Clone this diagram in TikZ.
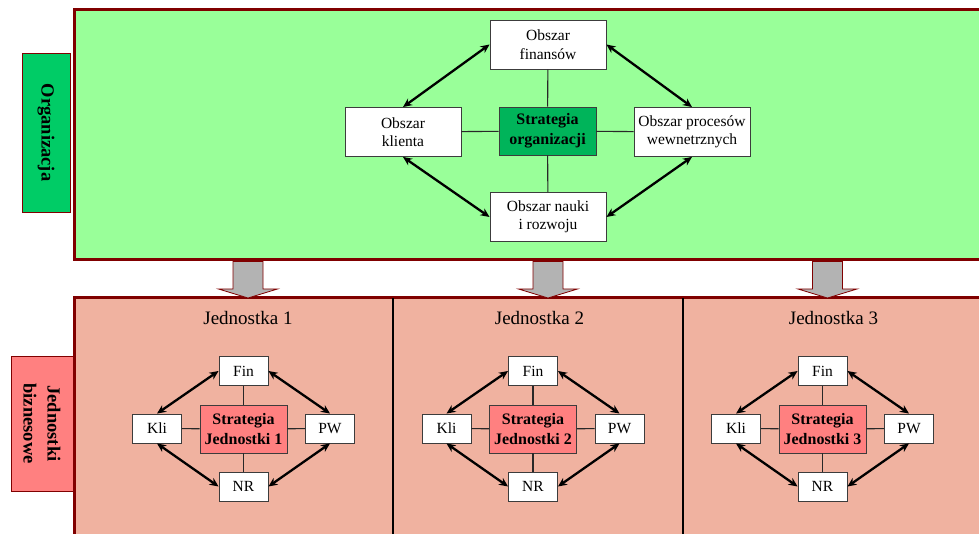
\documentclass[tikz,border=0pt]{standalone}
\usepackage{fontspec}
\setmainfont{Liberation Serif}
\usetikzlibrary{arrows.meta}
\definecolor{frame}{RGB}{128,0,0}
\definecolor{orgfill}{RGB}{153,255,153}
\definecolor{orglabel}{RGB}{0,204,102}
\definecolor{orgstrat}{RGB}{0,180,90}
\definecolor{unitfill}{RGB}{240,178,160}
\definecolor{unitlabel}{RGB}{255,128,128}
\definecolor{boxline}{RGB}{60,60,60}
\definecolor{linkline}{RGB}{40,40,40}
\definecolor{blockgray}{RGB}{179,179,179}
\begin{document}
\begin{tikzpicture}[x=1pt,y=-1pt,
  box/.style={draw=boxline, fill=white, line width=0.9pt, align=center, inner sep=0pt,
    font=\fontsize{15.5}{18.5}\selectfont},
  obox/.style={box, minimum width=116pt, minimum height=49pt},
  sbox/.style={box, minimum width=49pt, minimum height=29pt, font=\fontsize{15.5}{18}\selectfont},
  ostrat/.style={box, fill=orgstrat, minimum width=97pt, minimum height=48pt,
    font=\fontsize{16}{20}\selectfont\bfseries},
  ustrat/.style={box, fill=unitlabel, minimum width=87pt, minimum height=48pt,
    font=\fontsize{16}{20}\selectfont\bfseries},
  link/.style={draw=linkline, line width=1.1pt},
  dbl/.style={{Stealth[length=9pt,width=8pt]}-{Stealth[length=9pt,width=8pt]}, line width=2.3pt},
  sidelabel/.style={draw=frame, line width=0.8pt, rotate=-90, align=center, inner sep=0pt,
    font=\fontsize{18.5}{24}\selectfont\bfseries},
  heading/.style={font=\fontsize{19}{22}\selectfont},
  block/.style={fill=blockgray, draw=frame, line width=0.8pt}
]
\useasboundingbox (0,0) rectangle (979,534);
\clip (0,0) rectangle (979,534);

% organisation level
\draw[frame, line width=3pt, fill=orgfill] (74,10) rectangle (995,260);
\node[sidelabel, fill=orglabel, minimum width=159pt, minimum height=48pt] (orglab) at (46,132.5) {Organizacja};

\node[obox] (fin) at (548,44.5) {Obszar\\finansów};
\node[obox] (kli) at (403,132) {Obszar\\klienta};
\node[obox] (pw) at (692,132) {Obszar procesów\\wewnetrznych};
\node[obox] (nr) at (548,217) {Obszar nauki\\i rozwoju};
\node[ostrat] (sorg) at (547.5,131) {Strategia\\organizacji};

\draw[link] (sorg) -- (fin);
\draw[link] (sorg) -- (kli);
\draw[link] (sorg) -- (pw);
\draw[link] (sorg) -- (nr);
\draw[dbl] (fin.west) -- (kli.north);
\draw[dbl] (fin.east) -- (pw.north);
\draw[dbl] (kli.south) -- (nr.west);
\draw[dbl] (pw.south) -- (nr.east);

% business units
\draw[frame, line width=3pt, fill=unitfill] (74,298) rectangle (995,550);
\draw[black, line width=1.6pt] (393,298) -- (393,540);
\draw[black, line width=1.6pt] (683,298) -- (683,540);
\node[sidelabel, fill=unitlabel, minimum width=135pt, minimum height=62pt] (unitlab) at (42,423.5) {Jednostki\\biznesowe};

% block arrows from the organisation down to each unit
\foreach \ax in {248, 548, 827.5} {
  \draw[block] (\ax-15,261.5) -- (\ax+15,261.5) -- (\ax+15,289) -- (\ax+29.5,289)
    -- (\ax,298) -- (\ax-29.5,289) -- (\ax-15,289) -- cycle;
}

\foreach \cx/\hx/\n in {243.5/248/1, 533/539.5/2, 822.5/833.5/3} {
  \node[heading] (head\n) at (\hx,318) {Jednostka \n};
  \node[sbox] (ufin\n) at (\cx,371) {Fin};
  \node[sbox] (ukli\n) at (\cx-86.5,428.5) {Kli};
  \node[sbox] (upw\n) at (\cx+86.5,428.5) {PW};
  \node[sbox] (unr\n) at (\cx,486.5) {NR};
  \node[ustrat] (ustr\n) at (\cx,429) {Strategia\\Jednostki \n};
  \draw[link] (ustr\n) -- (ufin\n);
  \draw[link] (ustr\n) -- (ukli\n);
  \draw[link] (ustr\n) -- (upw\n);
  \draw[link] (ustr\n) -- (unr\n);
  \draw[dbl] (ufin\n.west) -- (ukli\n.north);
  \draw[dbl] (ufin\n.east) -- (upw\n.north);
  \draw[dbl] (ukli\n.south) -- (unr\n.west);
  \draw[dbl] (upw\n.south) -- (unr\n.east);
}
\end{tikzpicture}
\end{document}
